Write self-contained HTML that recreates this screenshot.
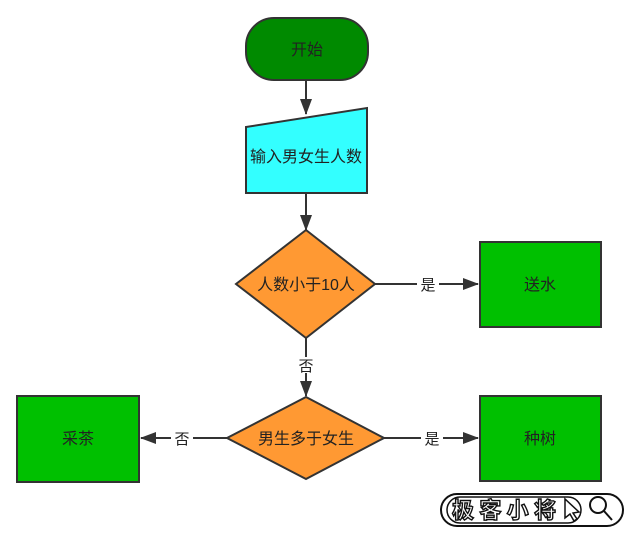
<!DOCTYPE html>
<html><head><meta charset="utf-8"><style>
html,body{margin:0;padding:0;background:#fff;}
svg text{font-family:"Liberation Sans","Noto Sans CJK SC",sans-serif;}
</style></head><body>
<svg width="628" height="529" viewBox="0 0 628 529" xmlns="http://www.w3.org/2000/svg">
<defs>
<marker id="b" markerWidth="16" markerHeight="12" refX="15" refY="6" orient="auto" markerUnits="userSpaceOnUse"><path d="M0,0 L16,6 L0,12 z" fill="#333"/></marker></defs>
<g stroke="#333" stroke-width="2" fill="none">
<line x1="306" y1="80" x2="306" y2="114" marker-end="url(#b)"/>
<line x1="306" y1="193" x2="306" y2="230" marker-end="url(#b)"/>
<line x1="375" y1="284" x2="478" y2="284" marker-end="url(#b)"/>
<line x1="306" y1="338" x2="306" y2="396" marker-end="url(#b)"/>
<line x1="384" y1="438" x2="478" y2="438" marker-end="url(#b)"/>
<line x1="227" y1="438" x2="141" y2="438" marker-end="url(#b)"/>
</g>
<rect x="246" y="18" width="122" height="62" rx="28" fill="#008a00" stroke="#333" stroke-width="2"/>
<text x="307" y="55" font-size="16" text-anchor="middle" fill="#222">开始</text>
<polygon points="246,127 367,108 367,193 246,193" fill="#33ffff" stroke="#333" stroke-width="2"/>
<text x="306" y="162" font-size="16" text-anchor="middle" fill="#222">输入男女生人数</text>
<polygon points="306,230 375,284 306,338 236,284" fill="#ff9933" stroke="#333" stroke-width="2"/>
<text x="306" y="290" font-size="16" text-anchor="middle" fill="#222">人数小于10人</text>
<polygon points="306,397 384,438 306,479 227,438" fill="#ff9933" stroke="#333" stroke-width="2"/>
<text x="306" y="444" font-size="16" text-anchor="middle" fill="#222">男生多于女生</text>
<rect x="480" y="242" width="121" height="85" fill="#00c000" stroke="#333" stroke-width="2"/>
<text x="540" y="290" font-size="16" text-anchor="middle" fill="#222">送水</text>
<rect x="480" y="396" width="121" height="85" fill="#00c000" stroke="#333" stroke-width="2"/>
<text x="540" y="444" font-size="16" text-anchor="middle" fill="#222">种树</text>
<rect x="17" y="396" width="122" height="86" fill="#00c000" stroke="#333" stroke-width="2"/>
<text x="78" y="444" font-size="16" text-anchor="middle" fill="#222">采茶</text>
<rect x="417" y="276" width="22" height="16" fill="#fff"/>
<text x="428" y="290" font-size="15" text-anchor="middle" fill="#222">是</text>
<rect x="295" y="357" width="22" height="16" fill="#fff"/>
<text x="306" y="371" font-size="15" text-anchor="middle" fill="#222">否</text>
<rect x="421" y="430" width="22" height="16" fill="#fff"/>
<text x="432" y="444" font-size="15" text-anchor="middle" fill="#222">是</text>
<rect x="171" y="430" width="22" height="16" fill="#fff"/>
<text x="182" y="444" font-size="15" text-anchor="middle" fill="#222">否</text>
<rect x="441" y="494" width="182" height="32" rx="16" fill="#fff" stroke="#111" stroke-width="2"/>
<rect x="447" y="497" width="134" height="26" rx="13" fill="#fff" stroke="#111" stroke-width="1.5"/>
<text x="452" y="518" font-size="22" font-weight="bold" fill="#fff" stroke="#111" stroke-width="1.4" textLength="104" lengthAdjust="spacing">极客小将</text>
<path d="M565,499 L565,518 L570,514 L574,521 L577,519 L573,513 L579,512 z" fill="#fff" stroke="#111" stroke-width="1.5"/>
<circle cx="598" cy="505" r="8" fill="none" stroke="#111" stroke-width="2"/>
<line x1="604" y1="511" x2="612" y2="520" stroke="#111" stroke-width="2"/>
</svg>
</body></html>
